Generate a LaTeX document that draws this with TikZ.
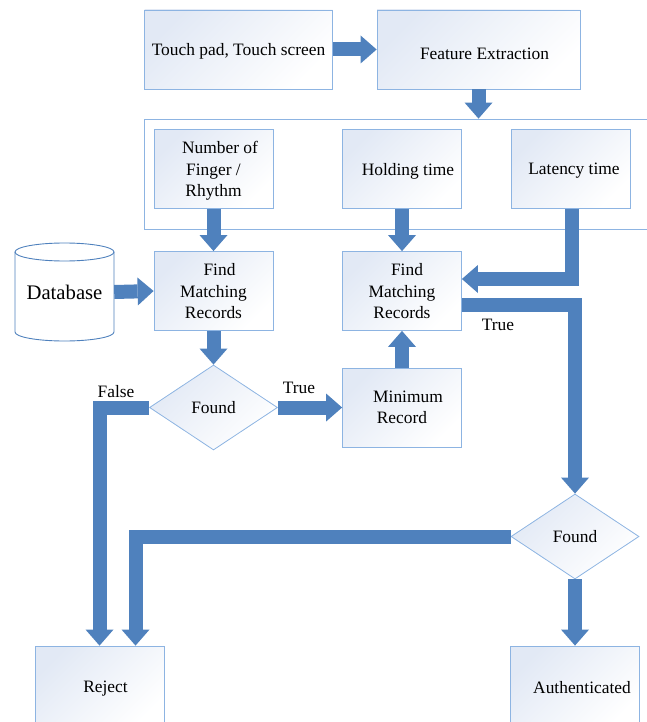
\documentclass[tikz,border=0pt]{standalone}
\usepackage{fontspec}
\setmainfont{Liberation Serif}
\usetikzlibrary{arrows.meta,shapes.geometric,calc}
\definecolor{arrowblue}{RGB}{79,129,189}
\definecolor{boxline}{RGB}{141,180,226}
\definecolor{boxtint}{RGB}{226,233,245}
\definecolor{dbline}{RGB}{79,129,189}
\newcommand{\lowertext}[2]{\raisebox{-#1}[\height][\depth]{#2}}
\begin{document}
\begin{tikzpicture}[x=1pt,y=-1pt,
  every node/.style={font=\fontsize{17.4}{21.4}\selectfont, inner sep=0pt, text depth=0pt},
  box/.style={rectangle, draw=boxline, line width=0.8pt, top color=boxtint, bottom color=white, shading angle=45, minimum width=119pt, minimum height=79pt, align=center},
  dec/.style={diamond, draw=boxline, line width=0.8pt, top color=boxtint, bottom color=white, shading angle=45, minimum width=128pt, minimum height=85pt, aspect=1.5},
  fat/.style={draw=arrowblue, line width=14pt, -{Triangle[width=28pt,length=16pt,line width=0pt]}, line join=miter},
  lbl/.style={align=center}
]
\useasboundingbox (0,0) rectangle (646,722);
% container of features
\node[draw=boxline, line width=0.8pt, minimum width=516pt, minimum height=110pt] (feat) at (402,174) {};
% boxes
\node[box, minimum width=188pt] (tp) at (238.5,49.5) {Touch pad, Touch screen};
\node[box, minimum width=203pt] (fe) at (478.5,49.5) {\lowertext{4pt}{\hspace*{12pt}Feature Extraction}};
\node[box] (nof) at (213.5,169) {\hspace*{13pt}Number of\\Finger /\\Rhythm};
\node[box] (hold) at (402,169) {\hspace*{12pt}Holding time};
\node[box] (lat) at (570.5,169) {\hspace*{7pt}Latency time};
\node[box] (fmr1) at (213.5,291) {\hspace*{12pt}Find\\Matching\\Records};
\node[box] (fmr2) at (402,291) {\hspace*{10pt}Find\\Matching\\Records};
\node[box] (minr) at (402,407.5) {\hspace*{12pt}Minimum\\Record};
\node[dec] (f1) at (213.5,407.5) {Found};
\node[dec] (f2) at (575,536.5) {Found};
\node[box, minimum width=129pt, minimum height=82pt] (rej) at (99.5,687) {\hspace*{12pt}Reject};
\node[box, minimum width=128.5pt, minimum height=82pt] (auth) at (575,687) {\hspace*{14pt}Authenticated};
% database cylinder
\fill[white] (15,252) -- (15,332) arc[start angle=180,end angle=0,x radius=49.5,y radius=9] -- (114,252) -- cycle;
\draw[dbline, line width=0.9pt] (15,252) -- (15,332) arc[start angle=180,end angle=0,x radius=49.5,y radius=9] -- (114,252);
\draw[dbline, line width=0.9pt] (64.5,252) ellipse[x radius=49.5, y radius=9];
\node[minimum width=99pt, minimum height=98pt, font=\fontsize{20.7}{24}\selectfont] (db) at (64.5,292) {Database};
% labels
\node[lbl] (lf) at (116,391) {False};
\node[lbl] (lt1) at (299,388) {True};
\node[lbl] (lt2) at (498,325) {True};
% connectors
\draw[fat] (tp.east) -- (fe.west);
\draw[fat] (fe.south) -- (fe.south |- feat.north);
\draw[fat] (nof.south) -- (fmr1.north);
\draw[fat] (hold.south) -- (fmr2.north);
\draw[fat] ($(lat.south)+(1.5,0)$) |- ($(fmr2.east)+(0,-12)$);
\draw[fat] (db.east) -- (fmr1.west);
\draw[fat] (fmr1.south) -- (f1.north);
\draw[fat] (f1.east) -- (minr.west);
\draw[fat] (minr.north) -- (fmr2.south);
\draw[fat] ($(fmr2.east)+(0,14)$) -| (f2.north);
\draw[fat] (f1.west) -| (rej.north);
\draw[fat] (f2.west) -| ($(rej.north)+(36,0)$);
\draw[fat] (f2.south) -- (auth.north);
\end{tikzpicture}
\end{document}
